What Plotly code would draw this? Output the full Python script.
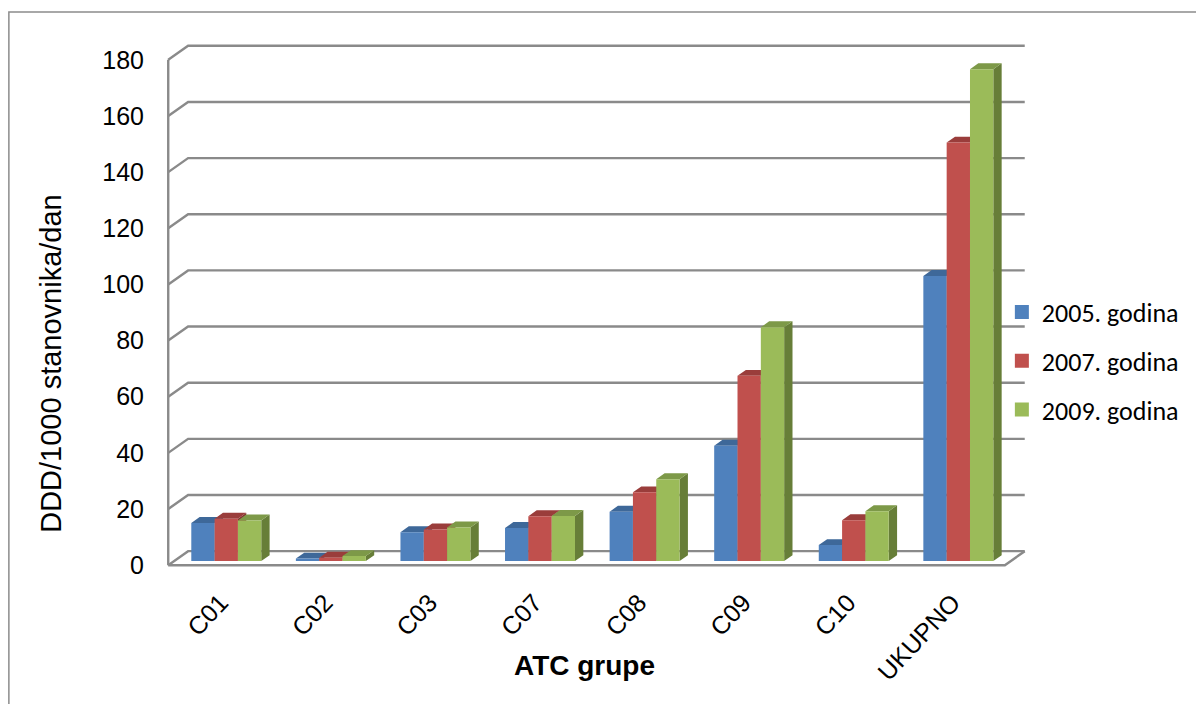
import plotly.graph_objects as go

# ATC groups and consumption (DDD/1000 inhabitants/day) per year
categories = ["C01", "C02", "C03", "C07", "C08", "C09", "C10", "UKUPNO"]
years = ["2005. godina", "2007. godina", "2009. godina"]
values_2005 = [13.6, 0.9, 10.3, 11.8, 17.6, 41.1, 5.7, 101.6]
values_2007 = [15.1, 1.2, 11.3, 16.0, 24.5, 66.0, 14.6, 149.1]
values_2009 = [14.5, 1.8, 12.0, 16.1, 29.2, 83.3, 17.8, 175.2]
y_ticks = [0, 20, 40, 60, 80, 100, 120, 140, 160, 180]

series = [values_2005, values_2007, values_2009]
front_colors = ["#4F81BD", "#C0504D", "#9BBB59"]
top_colors = ["#3E6899", "#9A3D3B", "#7D9948"]
side_colors = ["#34598A", "#843331", "#677E38"]

# oblique depth projection (in data units) for the faux-3D look
DX = 0.19    # depth shift along x (category units)
DY = 5.0     # depth shift along y (value units)
D0, D1 = 0.29, 0.71   # front / back planes of the bars within the floor depth
BAR_W = 0.223
Y_MAX = 180

def proj(x, y, d):
    return x + d * DX, y + d * DY

fig = go.Figure()

# walls: back gridlines, left-wall diagonals, front axis, floor edges
grid_x, grid_y = [], []
for v in y_ticks:
    for (x, y, d) in [(-0.5, v, 0), (-0.5, v, 1), (7.5, v, 1)]:
        px, py = proj(x, y, d)
        grid_x.append(px)
        grid_y.append(py)
    grid_x.append(None)
    grid_y.append(None)
for pts in ([(-0.5, 0, 0), (-0.5, Y_MAX, 0)],
            [(-0.5, 0, 0), (7.5, 0, 0), (7.5, 0, 1)]):
    for (x, y, d) in pts:
        px, py = proj(x, y, d)
        grid_x.append(px)
        grid_y.append(py)
    grid_x.append(None)
    grid_y.append(None)
fig.add_trace(go.Scatter(x=grid_x, y=grid_y, mode="lines",
                         line=dict(color="#8A8A8A", width=2.4),
                         hoverinfo="skip", showlegend=False))

# bars: side, top and front faces, drawn series by series (left to right)
for s, vals in enumerate(series):
    faces = {"side": ([], []), "top": ([], []), "front": ([], [])}
    for i, v in enumerate(vals):
        xl = i + (s - 1.5) * BAR_W
        xr = xl + BAR_W
        polys = {
            "front": [(xl, 0, D0), (xr, 0, D0), (xr, v, D0), (xl, v, D0)],
            "side": [(xr, 0, D0), (xr, 0, D1), (xr, v, D1), (xr, v, D0)],
            "top": [(xl, v, D0), (xr, v, D0), (xr, v, D1), (xl, v, D1)],
        }
        for name, pts in polys.items():
            fx, fy = faces[name]
            for (x, y, d) in pts + [pts[0]]:
                px, py = proj(x, y, d)
                fx.append(px)
                fy.append(py)
            fx.append(None)
            fy.append(None)
    for name, color in (("side", side_colors[s]), ("top", top_colors[s]),
                        ("front", front_colors[s])):
        fx, fy = faces[name]
        fig.add_trace(go.Scatter(x=fx, y=fy, mode="lines", fill="toself",
                                 fillcolor=color, line=dict(width=0, color=color),
                                 hoverinfo="skip", showlegend=False))

# legend entries
for s, name in enumerate(years):
    fig.add_trace(go.Scatter(x=[None], y=[None], mode="markers", name=name,
                             legendgroup=name,
                             marker=dict(symbol="square", size=14,
                                         color=front_colors[s])))

PX_CAT = 105.0
PX_VAL = 2.806
x_range = [-0.55, 7.5 + DX + 0.06]
y_range = [-1.0, Y_MAX + DY + 1.0]
plot_w = (x_range[1] - x_range[0]) * PX_CAT
plot_h = (y_range[1] - y_range[0]) * PX_VAL
left = 168 - (-0.5 - x_range[0]) * PX_CAT
bottom = 704 - 565 - (0 - y_range[0]) * PX_VAL
right = 1196 - left - plot_w
top = 704 - bottom - plot_h

def paper_x(px):
    return (px - left) / plot_w

def paper_y(py):
    return (704 - bottom - py) / plot_h

fig.update_layout(
    width=1196, height=704,
    margin=dict(l=left, r=right, t=top, b=bottom, pad=0),
    paper_bgcolor="white", plot_bgcolor="white",
    font=dict(family="Liberation Sans, Arial, sans-serif", color="black"),
    xaxis=dict(range=x_range, showgrid=False, zeroline=False, showline=False,
               tickmode="array", tickvals=list(range(len(categories))),
               ticktext=categories, tickangle=-47, ticks="",
               tickfont=dict(size=25), ticklabelstandoff=14, fixedrange=True),
    yaxis=dict(range=y_range, showgrid=False, zeroline=False, showline=False,
               tickmode="array", tickvals=y_ticks, ticks="",
               tickfont=dict(size=25), ticklabelstandoff=18, fixedrange=True),
    legend=dict(x=paper_x(1005), y=paper_y(361), xanchor="left", yanchor="middle",
                font=dict(family="Calibri, Carlito, Lato, sans-serif", size=26),
                bgcolor="rgba(0,0,0,0)", itemsizing="trace",
                tracegroupgap=12),
    annotations=[
        dict(text="ATC grupe", xref="paper", yref="paper",
             x=paper_x(586), y=paper_y(665), xanchor="center", yanchor="middle",
             showarrow=False, font=dict(size=28, family="Liberation Sans, Arial",
                                        weight="bold")),
        dict(text="DDD/1000 stanovnika/dan", xref="paper", yref="paper",
             x=paper_x(50), y=paper_y(363), xanchor="center", yanchor="middle",
             textangle=-90, showarrow=False,
             font=dict(size=29, family="Liberation Sans, Arial")),
    ],
    shapes=[dict(type="rect", xref="paper", yref="paper",
                 x0=paper_x(8), x1=paper_x(1205), y0=paper_y(712), y1=paper_y(12),
                 line=dict(color="#8C8C8C", width=1.5), layer="below")],
)

fig.write_html("out.html")
